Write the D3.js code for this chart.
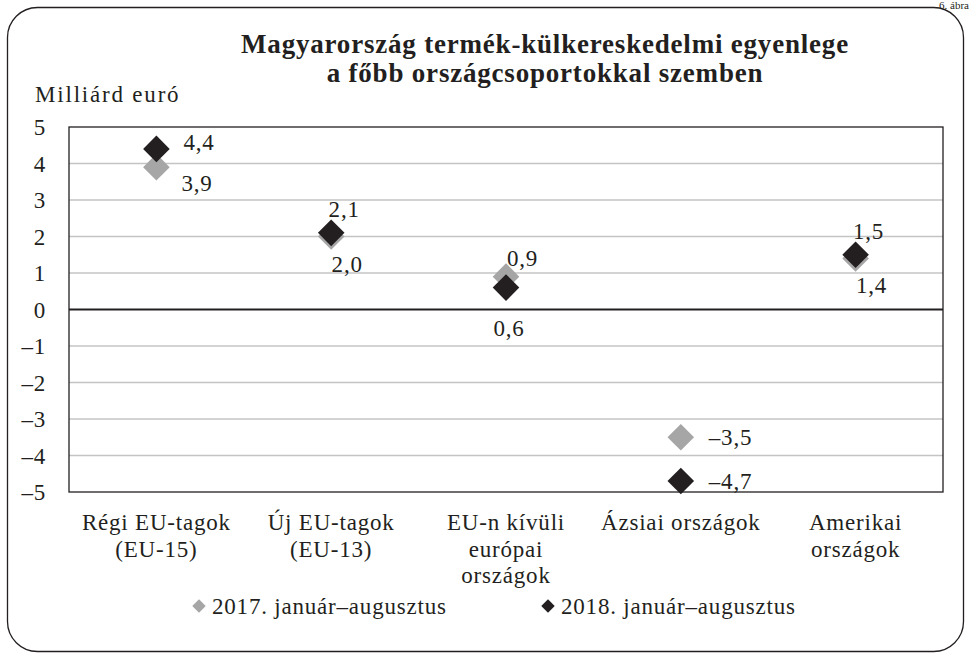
<!DOCTYPE html>
<html>
<head>
<meta charset="utf-8">
<script src="https://cdn.jsdelivr.net/npm/d3@7"></script>
<style>
  body { margin: 0; background: #fff; }
  svg text { font-family: "Liberation Serif", "Times New Roman", serif; fill: #231f20; letter-spacing: 0.8px; }
</style>
</head>
<body>
<div id="chart"></div>
<script>
(function() {
  const categories = [
    ["Régi EU-tagok", "(EU-15)"],
    ["Új EU-tagok", "(EU-13)"],
    ["EU-n kívüli", "európai", "országok"],
    ["Ázsiai országok"],
    ["Amerikai", "országok"]
  ];
  const values2017 = [3.9, 2.0, 0.9, -3.5, 1.4];
  const values2018 = [4.4, 2.1, 0.6, -4.7, 1.5];
  const yTicks = [5, 4, 3, 2, 1, 0, -1, -2, -3, -4, -5];
  const seriesNames = ["2017. január–augusztus", "2018. január–augusztus"];

  // where each data label sits relative to its marker
  const place2017 = ["belowRight", "below", "aboveRight", "right", "below"];
  const place2018 = ["upRight", "above", "belowAxis", "right", "above"];

  const W = 971, H = 656;
  const margin = { top: 127, left: 69, right: 28, bottom: 164 };
  const width = W - margin.left - margin.right;
  const height = H - margin.top - margin.bottom;
  const grey = "#a6a6a6", dark = "#231f20";

  const svg = d3.select("#chart").append("svg")
    .attr("width", W)
    .attr("height", H)
    .attr("font-family", "Liberation Serif, serif");

  // frame
  svg.append("rect")
    .attr("x", 7.5).attr("y", 7.5)
    .attr("width", W - 15).attr("height", H - 12)
    .attr("rx", 30).attr("ry", 30)
    .attr("fill", "none")
    .attr("stroke", dark)
    .attr("stroke-width", 1.3);

  svg.append("text")
    .attr("x", 969).attr("y", 9)
    .attr("text-anchor", "end")
    .style("font-size", "11px")
    .style("letter-spacing", "0px")
    .text("6. ábra");

  svg.append("text")
    .attr("x", 545).attr("y", 53)
    .attr("text-anchor", "middle")
    .style("font-size", "27px")
    .style("font-weight", "bold")
    .text("Magyarország termék-külkereskedelmi egyenlege");
  svg.append("text")
    .attr("x", 545).attr("y", 82)
    .attr("text-anchor", "middle")
    .style("font-size", "27px")
    .style("font-weight", "bold")
    .text("a főbb országcsoportokkal szemben");

  svg.append("text")
    .attr("x", 35).attr("y", 102)
    .style("font-size", "23px")
    .style("letter-spacing", "1.8px")
    .text("Milliárd euró");

  const g = svg.append("g")
    .attr("transform", "translate(" + margin.left + "," + margin.top + ")");

  const x = d3.scaleBand()
    .domain(d3.range(categories.length))
    .range([0, width]);
  const y = d3.scaleLinear().domain([-5, 5]).range([height, 0]);

  // grid
  g.selectAll(".grid")
    .data(yTicks.filter(d => d !== 0 && Math.abs(d) !== 5))
    .enter().append("line")
    .attr("x1", 0).attr("x2", width)
    .attr("y1", d => y(d)).attr("y2", d => y(d))
    .attr("stroke", "#c4c4c4")
    .attr("stroke-width", 1.5);

  g.append("rect")
    .attr("width", width).attr("height", height)
    .attr("fill", "none")
    .attr("stroke", dark)
    .attr("stroke-width", 1.3);

  g.append("line")
    .attr("x1", 0).attr("x2", width)
    .attr("y1", y(0)).attr("y2", y(0))
    .attr("stroke", dark)
    .attr("stroke-width", 2);

  // y axis labels
  g.selectAll(".ytick")
    .data(yTicks)
    .enter().append("text")
    .attr("x", -23)
    .attr("y", d => y(d))
    .attr("dy", "0.35em")
    .attr("text-anchor", "end")
    .style("font-size", "23px")
    .text(d => (d < 0 ? "–" + (-d) : d));

  // category labels
  const cat = g.selectAll(".cat")
    .data(categories)
    .enter().append("text")
    .attr("text-anchor", "middle")
    .style("font-size", "23px");
  cat.selectAll("tspan")
    .data((d, i) => d.map(s => ({ s: s, i: i })))
    .enter().append("tspan")
    .attr("x", d => x(d.i) + x.bandwidth() / 2)
    .attr("y", (d, j) => height + 38 + j * 26.5)
    .text(d => d.s);

  const diamond = d3.symbol().type(d3.symbolDiamond2).size(450);
  const fmt = v => (v < 0 ? "–" : "") + d3.format(".1f")(Math.abs(v)).replace(".", ",");

  const offsets = {
    right: [28, 0, "start"],
    upRight: [27, -7, "start"],
    belowRight: [25, 16, "start"],
    aboveRight: [1, -19, "start"],
    above: [13, -24, "middle"],
    below: [16, 27, "middle"],
    belowAxis: [3, 40, "middle"]
  };

  function drawSeries(vals, colour, places) {
    g.selectAll(null)
      .data(vals)
      .enter().append("path")
      .attr("d", diamond)
      .attr("transform", (d, i) => "translate(" + (x(i) + x.bandwidth() / 2) + "," + y(d) + ")")
      .attr("fill", colour);
    g.selectAll(null)
      .data(vals)
      .enter().append("text")
      .attr("x", (d, i) => x(i) + x.bandwidth() / 2 + offsets[places[i]][0])
      .attr("y", (d, i) => y(d) + offsets[places[i]][1])
      .attr("dy", "0.35em")
      .attr("text-anchor", (d, i) => offsets[places[i]][2])
      .style("font-size", "23px")
      .text(fmt);
  }
  drawSeries(values2017, grey, place2017);
  drawSeries(values2018, dark, place2018);

  // legend
  const legendX = [199, 548];
  const legendColours = [grey, dark];
  const lg = svg.selectAll(".legend")
    .data(seriesNames)
    .enter().append("g")
    .attr("transform", (d, i) => "translate(" + legendX[i] + ",606)");
  lg.append("path")
    .attr("d", d3.symbol().type(d3.symbolDiamond2).size(115))
    .attr("fill", (d, i) => legendColours[i]);
  lg.append("text")
    .attr("x", 13)
    .attr("dy", "0.35em")
    .style("font-size", "23px")
    .text(d => d);
})();
</script>
</body>
</html>
